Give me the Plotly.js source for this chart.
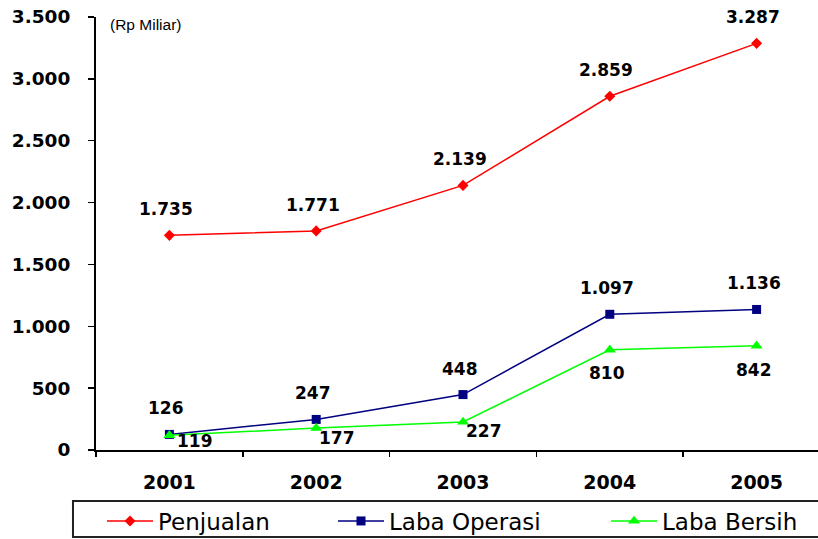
<!DOCTYPE html>
<html>
<head>
<meta charset="utf-8">
<script src="https://cdn.plot.ly/plotly-3.0.1.min.js"></script>
<style>
html, body { margin: 0; padding: 0; overflow: hidden; background: #fff; }
#chart { width: 832px; height: 539px; }
</style>
</head>
<body>
<div id="chart"></div>
<script>
// ---- data ----
const years = ['2001', '2002', '2003', '2004', '2005'];
const penjualan = [1735, 1771, 2139, 2859, 3287];
const labaOperasi = [126, 247, 448, 1097, 1136];
const labaBersih = [119, 177, 227, 810, 842];
const yTicks = [0, 500, 1000, 1500, 2000, 2500, 3000, 3500];

// ---- label placement (pixels) ----
const bersihShiftX = [26, 21, 21, -3, -3];
const bersihShiftY = [-6, -10, -9, -23, -24];

function fmt(v) {
  return String(v).replace(/\B(?=(\d{3})+(?!\d))/g, '.');
}

const W = 832, H = 539;
const PW = 733.5, PH = 433, PL = 96, PB = 450;
function px2x(p) { return (p - PL) / PW; }
function py2y(p) { return (PB - p) / PH; }

const traces = [
  { x: years, y: penjualan, name: 'Penjualan', type: 'scatter', mode: 'lines+markers',
    line: { color: '#FF0000', width: 1.5 },
    marker: { symbol: 'diamond', size: 8.5, color: '#FF0000' }, legend: 'legend' },
  { x: years, y: labaOperasi, name: 'Laba Operasi', type: 'scatter', mode: 'lines+markers',
    line: { color: '#000080', width: 1.5 },
    marker: { symbol: 'square', size: 9, color: '#000080' }, legend: 'legend2' },
  { x: years, y: labaBersih, name: 'Laba Bersih', type: 'scatter', mode: 'lines+markers',
    line: { color: '#00FF00', width: 1.5 },
    marker: { symbol: 'triangle-up', size: 10.5, color: '#00FF00' }, legend: 'legend3' }
];

const labelFont = { family: 'DejaVu Sans', size: 17, color: '#000' };
const annotations = [];
penjualan.forEach((v, i) => annotations.push({
  x: i, y: v, text: '<b>' + fmt(v) + '</b>', showarrow: false,
  xshift: -3.5, yshift: 26, font: labelFont
}));
labaOperasi.forEach((v, i) => annotations.push({
  x: i, y: v, text: '<b>' + fmt(v) + '</b>', showarrow: false,
  xshift: -3, yshift: 26, font: labelFont
}));
labaBersih.forEach((v, i) => annotations.push({
  x: i, y: v, text: '<b>' + fmt(v) + '</b>', showarrow: false,
  xshift: bersihShiftX[i], yshift: bersihShiftY[i], font: labelFont
}));
annotations.push({
  xref: 'paper', yref: 'paper', x: px2x(108), y: py2y(25), xanchor: 'left', yanchor: 'middle',
  text: '(Rp Miliar)', showarrow: false,
  font: { family: 'Liberation Sans Narrow, Liberation Sans, Arial', size: 15.5, color: '#000' }
});

const legendFont = { family: 'DejaVu Sans', size: 23, color: '#000' };
function leg(px) {
  return { orientation: 'h', xref: 'container', yref: 'container',
    x: px / W, xanchor: 'left', y: 1 - 521 / H, yanchor: 'middle',
    itemwidth: 46,
    bgcolor: 'rgba(0,0,0,0)', borderwidth: 0, font: legendFont };
}

const layout = {
  width: W, height: H,
  margin: { l: 96, r: 2, t: 17, b: 89 },
  paper_bgcolor: '#fff', plot_bgcolor: '#fff',
  separators: ',.',
  showlegend: true,
  legend: leg(102),
  legend2: leg(333),
  legend3: leg(606),
  xaxis: {
    type: 'category', range: [-0.5, 4.5],
    showline: true, linecolor: '#000', linewidth: 2,
    showgrid: false, zeroline: false,
    ticks: 'outside', tickson: 'boundaries', ticklen: 5, tickcolor: '#000', tickwidth: 1.5,
    ticklabelstandoff: 14,
    tickfont: { family: 'DejaVu Sans', size: 19, color: '#000', weight: 'bold' },
    fixedrange: true
  },
  yaxis: {
    range: [0, 3500], tickvals: yTicks, tickformat: ',d',
    showline: true, linecolor: '#000', linewidth: 2,
    showgrid: false, zeroline: false,
    ticks: 'outside', ticklen: 6, tickcolor: '#000', tickwidth: 1.5,
    ticklabelstandoff: 14,
    tickfont: { family: 'DejaVu Sans', size: 18.5, color: '#000', weight: 'bold' },
    fixedrange: true
  },
  shapes: [{
    type: 'rect', xref: 'paper', yref: 'paper',
    x0: px2x(73), x1: px2x(845), y0: py2y(537), y1: py2y(501),
    line: { color: '#222', width: 2 }, fillcolor: 'rgba(0,0,0,0)'
  }],
  annotations: annotations
};

Plotly.newPlot('chart', traces, layout, { displayModeBar: false, staticPlot: true });
</script>
</body>
</html>
